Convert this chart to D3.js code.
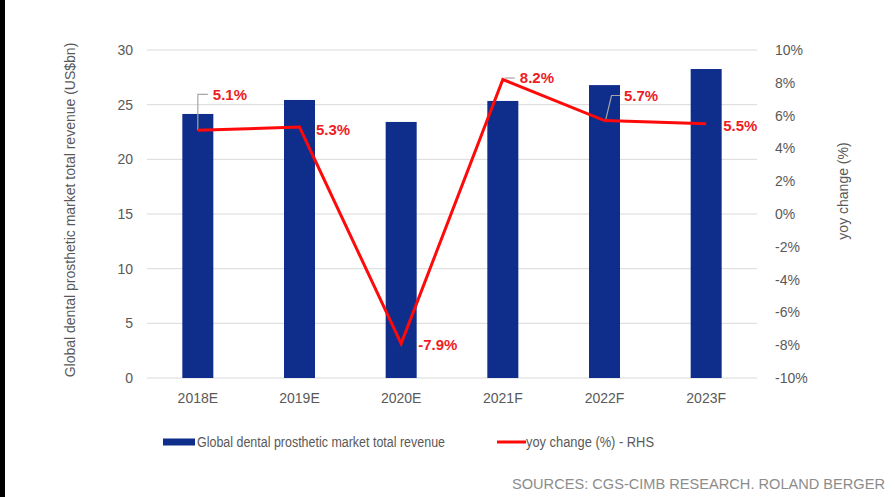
<!DOCTYPE html>
<html>
<head>
<meta charset="utf-8">
<script src="https://cdn.jsdelivr.net/npm/d3@7"></script>
<style>
  html, body { margin: 0; padding: 0; background: #fff; }
  svg { display: block; font-family: "Liberation Sans", Arial, sans-serif; }
</style>
</head>
<body>
<svg id="chart" width="895" height="497"></svg>
<script>
// Categories and series
const years = ["2018E", "2019E", "2020E", "2021F", "2022F", "2023F"];
const revenue = [24.15, 25.43, 23.42, 25.34, 26.79, 28.26];   // US$bn
const yoy = [5.1, 5.3, -7.9, 8.2, 5.7, 5.5];                   // %
const leftTicks = [0, 5, 10, 15, 20, 25, 30];
const rightTicks = [-10, -8, -6, -4, -2, 0, 2, 4, 6, 8, 10];
const seriesNames = ["Global dental prosthetic market total revenue", "yoy change (%) - RHS"];

// Label placement relative to each line point (px), and whether it has a leader line
const labelOffsets = [
  { dx: 15, dy: -36, leader: "elbow" },
  { dx: 16.5, dy: 3 },
  { dx: 17, dy: 1.5 },
  { dx: 17, dy: -1.5, leader: "flat" },
  { dx: 19.5, dy: -25, leader: "slant" },
  { dx: 17, dy: 2 }
];

const svg = d3.select("#chart");
const W = 895, H = 497;
const plot = { left: 147, right: 757, top: 50, bottom: 378 };

const grey = "#595959";
const barColor = "#0f2d8a";
const lineColor = "#ff0a0a";
const labelColor = "#ee1c25";

svg.append("rect").attr("width", W).attr("height", H).attr("fill", "#fff");
svg.append("rect").attr("x", 0).attr("y", 0).attr("width", 5).attr("height", H).attr("fill", "#000");

const x = d3.scaleBand().domain(years).range([plot.left, plot.right])
  .paddingInner(0.695).paddingOuter(0.3475);
const yL = d3.scaleLinear().domain([0, 30]).range([plot.bottom, plot.top]);
const yR = d3.scaleLinear().domain([-10, 10]).range([plot.bottom, plot.top]);
const cx = d => x(d) + x.bandwidth() / 2;

// Gridlines
svg.append("g").selectAll("line").data(leftTicks).join("line")
  .attr("x1", plot.left).attr("x2", plot.right)
  .attr("y1", d => yL(d)).attr("y2", d => yL(d))
  .attr("stroke", "#d9d9d9").attr("stroke-width", 1);

// Left axis
const axL = svg.append("g").attr("transform", `translate(${plot.left},0)`)
  .call(d3.axisLeft(yL).tickValues(leftTicks).tickSize(0).tickPadding(14));
axL.select(".domain").remove();
axL.selectAll("text").attr("fill", grey).style("font-size", "14px")
  .style("font-family", "'Liberation Sans', Arial, sans-serif");

// Right axis
const axR = svg.append("g").attr("transform", `translate(${plot.right},0)`)
  .call(d3.axisRight(yR).tickValues(rightTicks).tickSize(0).tickPadding(18)
    .tickFormat(d => d + "%"));
axR.select(".domain").remove();
axR.selectAll("text").attr("fill", grey).style("font-size", "14px")
  .style("font-family", "'Liberation Sans', Arial, sans-serif");

// Bottom axis
const axB = svg.append("g").attr("transform", `translate(0,${plot.bottom})`)
  .call(d3.axisBottom(x).tickSize(0).tickPadding(15));
axB.select(".domain").remove();
axB.selectAll("text").attr("fill", grey).style("font-size", "14px")
  .style("font-family", "'Liberation Sans', Arial, sans-serif");

// Bars
svg.append("g").selectAll("rect").data(years).join("rect")
  .attr("x", d => x(d)).attr("width", x.bandwidth())
  .attr("y", (d, i) => yL(revenue[i]))
  .attr("height", (d, i) => yL(0) - yL(revenue[i]))
  .attr("fill", barColor);

// Axis titles
svg.append("text")
  .attr("transform", `translate(75,210) rotate(-90)`)
  .attr("text-anchor", "middle").attr("fill", grey).style("font-size", "14px")
  .text("Global dental prosthetic market total revenue (US$bn)");
svg.append("text")
  .attr("transform", `translate(848,191) rotate(-90)`)
  .attr("text-anchor", "middle").attr("fill", grey).style("font-size", "14px")
  .text("yoy change (%)");

// Leader lines for some labels
const pts = years.map((d, i) => [cx(d), yR(yoy[i])]);
const leaders = svg.append("g").attr("fill", "none").attr("stroke", "#a6a6a6").attr("stroke-width", 1.2);
labelOffsets.forEach((o, i) => {
  const [px, py] = pts[i];
  const ty = py + o.dy;
  let path = null;
  if (o.leader === "elbow") path = [[px, py], [px, ty], [px + o.dx - 5, ty]];
  if (o.leader === "flat") path = [[px + 2, ty], [px + o.dx - 5, ty]];
  if (o.leader === "slant") path = [[px + 1, py], [px + 7, ty], [px + o.dx - 4, ty]];
  if (path) leaders.append("path").attr("d", d3.line()(path));
});

// Line
svg.append("path").datum(pts)
  .attr("d", d3.line())
  .attr("fill", "none").attr("stroke", lineColor).attr("stroke-width", 3)
  .attr("stroke-linejoin", "miter");

// Data labels
svg.append("g").selectAll("text").data(yoy).join("text")
  .attr("x", (d, i) => pts[i][0] + labelOffsets[i].dx)
  .attr("y", (d, i) => pts[i][1] + labelOffsets[i].dy)
  .attr("dy", "0.36em")
  .attr("fill", labelColor).style("font-size", "15px").style("font-weight", "bold")
  .text(d => d.toFixed(1) + "%");

// Legend
const lg = svg.append("g");
lg.append("rect").attr("x", 163).attr("y", 438.5).attr("width", 32).attr("height", 7).attr("fill", barColor);
lg.append("text").attr("x", 197).attr("y", 442).attr("dy", "0.36em")
  .attr("fill", grey).style("font-size", "14px")
  .attr("textLength", 248).attr("lengthAdjust", "spacingAndGlyphs")
  .text(seriesNames[0]);
lg.append("line").attr("x1", 497).attr("x2", 526).attr("y1", 442).attr("y2", 442)
  .attr("stroke", lineColor).attr("stroke-width", 3);
lg.append("text").attr("x", 526).attr("y", 442).attr("dy", "0.36em")
  .attr("fill", grey).style("font-size", "14px")
  .attr("textLength", 128).attr("lengthAdjust", "spacingAndGlyphs")
  .text(seriesNames[1]);

// Source note
svg.append("text").attr("x", 885).attr("y", 489).attr("text-anchor", "end")
  .attr("fill", "#8c8c8c").style("font-size", "14.6px")
  .text("SOURCES: CGS-CIMB RESEARCH. ROLAND BERGER");
</script>
</body>
</html>
